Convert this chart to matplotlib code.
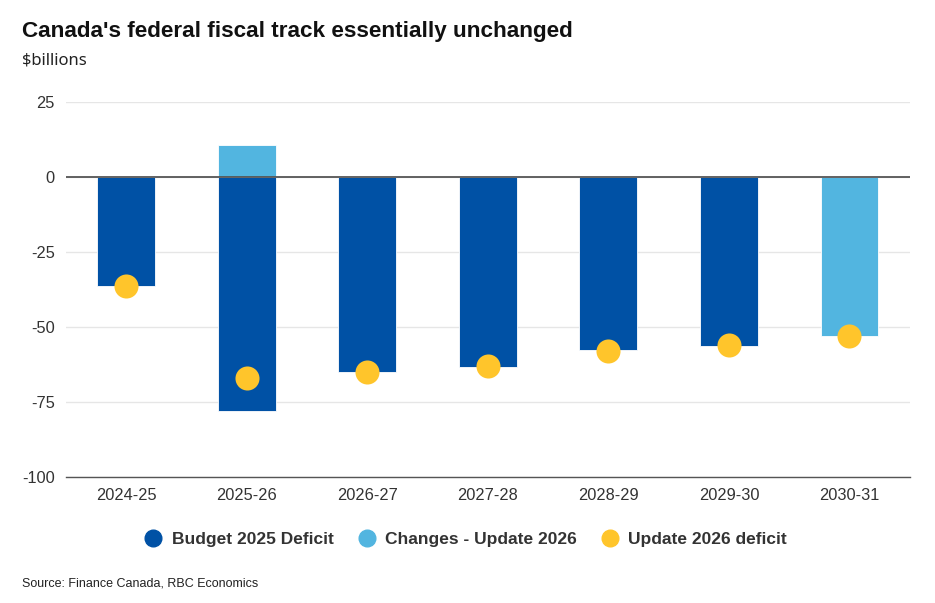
import matplotlib.pyplot as plt
from matplotlib.lines import Line2D

plt.rcParams['font.family'] = ['Liberation Sans', 'DejaVu Sans']

years = ['2024-25', '2025-26', '2026-27', '2027-28', '2028-29', '2029-30', '2030-31']
budget_2025 = [-36.3, -78.0, -65.0, -63.3, -57.7, -56.3, 0]
changes_2026 = [0, 10.7, 0, 0, 0, 0, -53.0]
update_2026 = [-36.3, -67.0, -65.0, -63.0, -58.0, -56.0, -53.0]

dark_blue = '#0051A5'
light_blue = '#52B5E0'
yellow = '#FFC52B'

fig = plt.figure(figsize=(9.35, 6.03), dpi=100)
ax = fig.add_axes([0.0706, 0.209, 0.9024, 0.622])

x = range(len(years))
ax.bar(x, budget_2025, width=0.48, color=dark_blue, edgecolor='white', linewidth=0.6, zorder=2)
ax.bar(x, changes_2026, width=0.48, color=light_blue, edgecolor='white', linewidth=0.6, zorder=2)
ax.scatter(x, update_2026, s=300, color=yellow, zorder=4, linewidths=0)

ax.set_xlim(-0.5, 6.5)
ax.set_ylim(-100, 25)
ax.set_yticks([25, 0, -25, -50, -75, -100])
ax.set_yticklabels(['25', '0', '-25', '-50', '-75', '-100'])
ax.set_xticks(list(x))
ax.set_xticklabels(years)
ax.grid(axis='y', color='#e6e6e6', linewidth=1, zorder=0)
ax.axhline(0, color='#555555', linewidth=1.3, zorder=3)

for s in ['top', 'right', 'left']:
    ax.spines[s].set_visible(False)
ax.spines['bottom'].set_color('#555555')
ax.spines['bottom'].set_linewidth(1.0)
ax.tick_params(axis='both', length=0, labelsize=11.8, colors='#333333', pad=8)
ax.tick_params(axis='y', pad=8)

fig.text(0.023, 0.947, "Canada's federal fiscal track essentially unchanged",
         fontsize=16.2, fontweight='bold', color='#111111', va='center')
fig.text(0.023, 0.899, r'\$billions', fontsize=12, color='#222222', va='center',
         family=['Noto Sans', 'DejaVu Sans'])
fig.text(0.023, 0.033, 'Source: Finance Canada, RBC Economics', fontsize=9, color='#222222', va='center')

handles = [
    Line2D([], [], marker='o', linestyle='', markersize=12, color=dark_blue, label='Budget 2025 Deficit'),
    Line2D([], [], marker='o', linestyle='', markersize=12, color=light_blue, label='Changes - Update 2026'),
    Line2D([], [], marker='o', linestyle='', markersize=12, color=yellow, label='Update 2026 deficit'),
]
leg = fig.legend(handles=handles, loc='center', bbox_to_anchor=(0.498, 0.105), ncol=3,
                 frameon=False, handlelength=1.0, handletextpad=0.55, columnspacing=1.4,
                 prop={'weight': 'bold', 'size': 12.5})
for t in leg.get_texts():
    t.set_color('#333333')

plt.savefig('out.png', dpi=100)
